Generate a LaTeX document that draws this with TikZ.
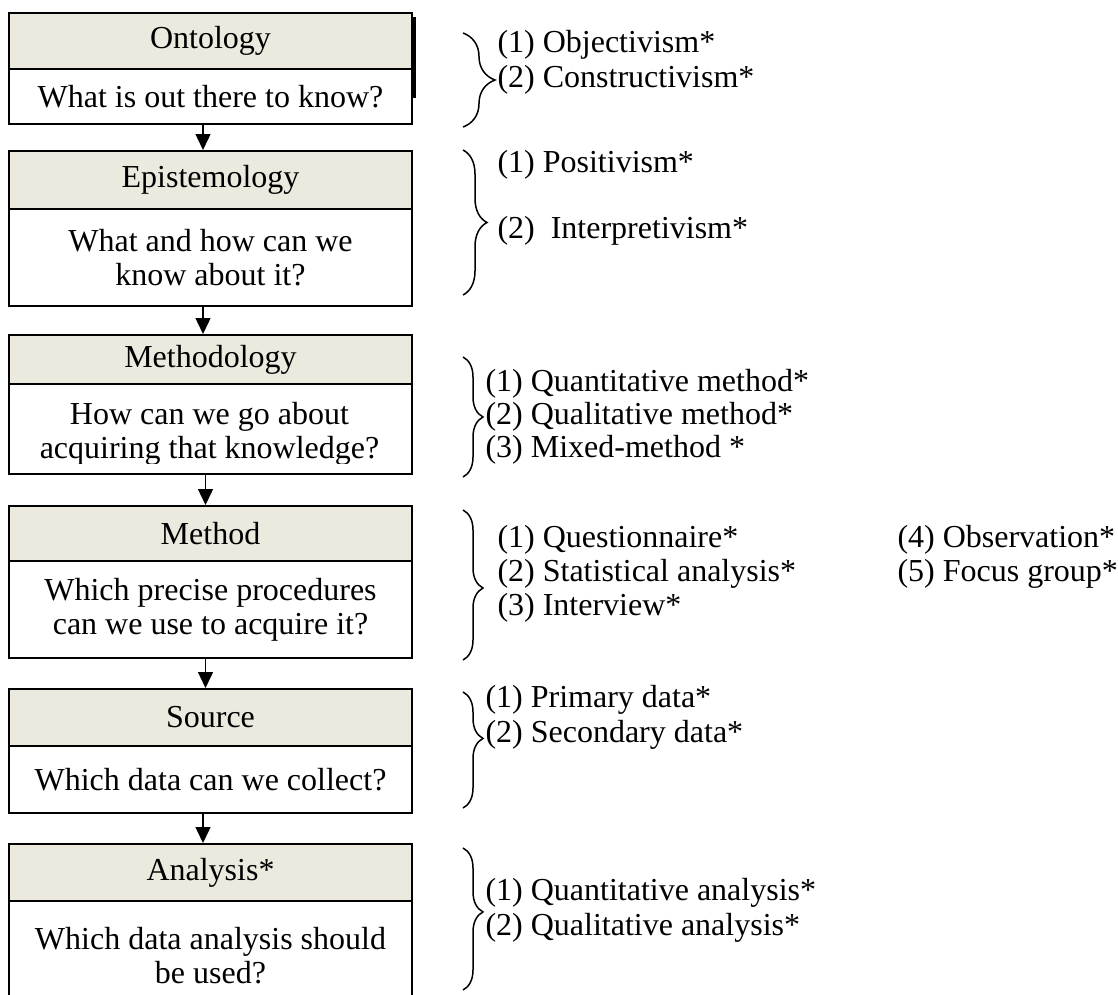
\documentclass[tikz,border=0pt]{standalone}
\usepackage{fontspec}
\setmainfont{Liberation Serif}
\usetikzlibrary{arrows.meta,decorations.pathreplacing}
\definecolor{headfill}{RGB}{236,233,223}
\definecolor{shade}{RGB}{196,194,206}

\begin{document}
\begin{tikzpicture}[x=0.4pt,y=-0.4pt,
  font=\fontsize{12.8pt}{13.6pt}\selectfont,
  head/.style={draw,line width=0.8pt,fill=headfill,anchor=north west,
    inner sep=0pt,minimum width=161.2pt},
  ask/.style={draw,line width=0.8pt,fill=white,anchor=north west,
    inner sep=0pt,minimum width=161.2pt,align=center},
  link/.style={-{Triangle[length=6.4pt,width=6pt]},line width=0.55pt},
  curly/.style 2 args={decorate,decoration={brace,amplitude=#1,aspect=#2},
    line width=0.6pt},
  item/.style={anchor=west,inner sep=0pt}]

  \clip (0,0) rectangle (1118,994);

  % the six levels
  \draw[shade,line width=1.4pt] (414,17) -- (414,98);
  \draw (8,12) node[head,minimum height=22.4pt] (h1) {Ontology};
  \draw (8,68) node[ask,minimum height=22pt] (q1) {What is out there to know?};

  \draw (8,150) node[head,minimum height=23.2pt] (h2) {Epistemology};
  \draw (8,208) node[ask,minimum height=38.8pt] (q2) {What and how can we\\know about it?};

  \draw (8,334) node[head,minimum height=19.6pt] (h3) {Methodology};
  \draw (8,383) node[ask,minimum height=36pt] (q3) {};
  \begin{scope}
    \clip (8,383) rectangle (411,463);
    \draw (209.5,434) node[align=center] (q3text) {How can we go about\\acquiring that knowledge?};
  \end{scope}

  \draw (8,505) node[head,minimum height=22pt] (h4) {Method};
  \draw (8,560) node[ask,minimum height=38.8pt] (q4) {Which precise procedures\\can we use to acquire it?};

  \draw (8,688) node[head,minimum height=22.8pt] (h5) {Source};
  \draw (8,745) node[ask,minimum height=26.8pt] (q5) {Which data can we collect?};

  \draw (8,843) node[head,minimum height=22.8pt] (h6) {Analysis*};
  \draw (8,900) node[ask,minimum height=44pt] (q6) {Which data analysis should\\be used?};

  \draw[link] ([xshift=-3pt]q1.south) -- ([xshift=-3pt]h2.north);
  \draw[link] ([xshift=-3pt]q2.south) -- ([xshift=-3pt]h3.north);
  \draw[link] ([xshift=-2pt]q3.south) -- ([xshift=-2pt]h4.north);
  \draw[link] ([xshift=-2pt]q4.south) -- ([xshift=-2pt]h5.north);
  \draw[link] ([xshift=-3pt]q5.south) -- ([xshift=-3pt]h6.north);

  % braces and the answers
  \draw[curly={12.8pt}{0.5}] (463,33) -- (463,127);
  \draw (497,45) node[item] (o1) {(1) Objectivism*}
  ++(0,35) node[item] (o2) {(2) Constructivism*};

  \draw[curly={9.6pt}{0.5}] (463,150) -- (463,295);
  \draw (497,165) node[item] (e1) {(1) Positivism*}
  ++(0,66) node[item] (e2) {(2)\ \ Interpretivism*};

  \draw[curly={8pt}{0.5}] (463,357) -- (463,477);
  \draw (485,384) node[item] (m1) {(1) Quantitative method*}
  ++(0,33) node[item] (m2) {(2) Qualitative method*}
  ++(0,33) node[item] (m3) {(3) Mixed-method *};

  \draw[curly={8pt}{0.52}] (463,510) -- (463,660);
  \draw (497,540) node[item] (t1) {(1) Questionnaire*}
  ++(0,34) node[item] (t2) {(2) Statistical analysis*}
  ++(0,34) node[item] (t3) {(3) Interview*};
  \draw (897,540) node[item] (t4) {(4) Observation*}
  ++(0,34) node[item] (t5) {(5) Focus group*};

  \draw[curly={8pt}{0.4}] (463,692) -- (463,808);
  \draw (485,700) node[item] (s1) {(1) Primary data*}
  ++(0,35) node[item] (s2) {(2) Secondary data*};

  \draw[curly={8pt}{0.45}] (463,848) -- (463,990);
  \draw (485,893) node[item] (a1) {(1) Quantitative analysis*}
  ++(0,35) node[item] (a2) {(2) Qualitative analysis*};

\end{tikzpicture}
\end{document}
